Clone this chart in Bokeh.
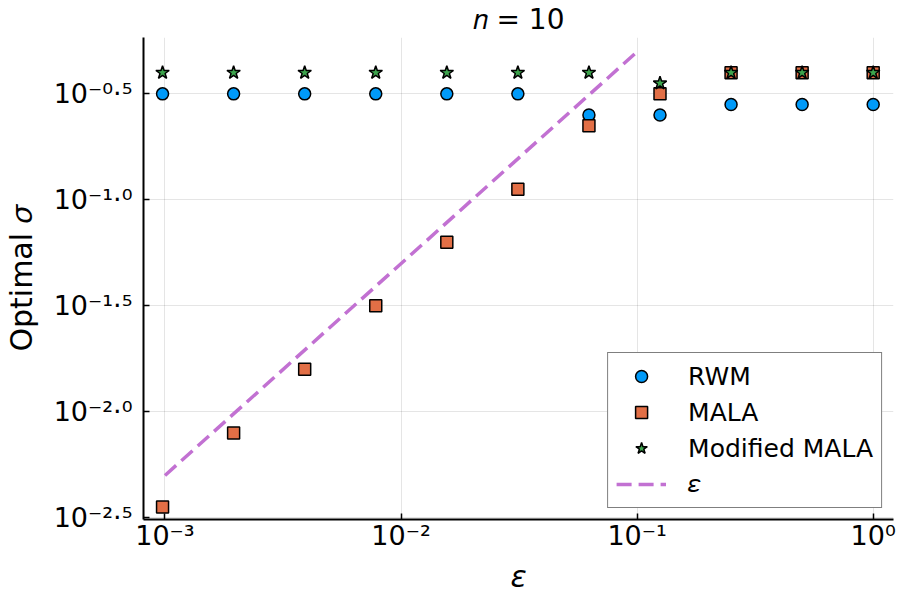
from bokeh.embed import file_html
from bokeh.models import (CustomJSTickFormatter, FixedTicker, Legend,
                          LegendItem, Range1d)
from bokeh.plotting import figure
from bokeh.resources import INLINE

# ---- data -------------------------------------------------------------
eps = [0.0009765625, 0.001953125, 0.00390625, 0.0078125, 0.015625,
       0.03125, 0.0625, 0.125, 0.25, 0.5, 1.0]
rwm = [0.3162, 0.3162, 0.3162, 0.3162, 0.3162, 0.3162,
       0.2512, 0.2512, 0.2818, 0.2818, 0.2818]
mala = [0.00355, 0.00794, 0.01585, 0.03162, 0.0631, 0.1122,
        0.2239, 0.3162, 0.3981, 0.3981, 0.3981]
mod_mala = [0.3981, 0.3981, 0.3981, 0.3981, 0.3981, 0.3981,
            0.3981, 0.3548, 0.3981, 0.3981, 0.3981]
ref_eps = [0.001, 0.1]
ref_sigma = [0.005, 0.5]

x_tick_exps = [-3, -2, -1, 0]
y_tick_exps = [-2.5, -2.0, -1.5, -1.0, -0.5]

# ---- styling ----------------------------------------------------------
FONT = "DejaVu Sans"
C_RWM = "#009af9"
C_MALA = "#e26f46"
C_MOD = "#3da44d"
C_REF = "#c271d2"

SUP = {"0": "\u2070", "1": "\u00b9", "2": "\u00b2", "3": "\u00b3",
       "4": "\u2074", "5": "\u2075", "6": "\u2076", "7": "\u2077",
       "8": "\u2078", "9": "\u2079", "-": "\u207b", ".": "\u00b7"}


def power_label(exp_text):
    """10 with the exponent written in superscript characters."""
    return "10" + "".join(SUP[c] for c in exp_text)


def log_tick_formatter(exps, labels):
    return CustomJSTickFormatter(args=dict(exps=exps, labels=labels), code="""
        const e = Math.log10(tick);
        let best = 0;
        for (let i = 1; i < exps.length; i++) {
            if (Math.abs(exps[i] - e) < Math.abs(exps[best] - e)) best = i;
        }
        return labels[best];
    """)


p = figure(width=900, height=600, x_axis_type="log", y_axis_type="log",
           x_range=Range1d(10 ** -3.091, 10 ** 0.086),
           y_range=Range1d(10 ** -2.509, 10 ** -0.234),
           output_backend="svg", toolbar_location=None,
           title="\U0001d45b = 10",
           min_border_left=142, min_border_right=7,
           min_border_top=37, min_border_bottom=81)
p.outline_line_color = None
p.background_fill_color = "white"
p.border_fill_color = "white"

p.title.align = "center"
p.title.vertical_align = "top"
p.title.text_font = FONT
p.title.text_font_size = "28px"
p.title.text_font_style = "normal"
p.title.text_color = "black"
p.title.standoff = 0

p.xaxis.ticker = FixedTicker(ticks=[10.0 ** e for e in x_tick_exps], minor_ticks=[])
p.yaxis.ticker = FixedTicker(ticks=[10.0 ** e for e in y_tick_exps], minor_ticks=[])
p.xaxis.formatter = log_tick_formatter(
    [float(e) for e in x_tick_exps], [power_label(f"{e:d}") for e in x_tick_exps])
p.yaxis.formatter = log_tick_formatter(
    y_tick_exps, [power_label(f"{e:.1f}") for e in y_tick_exps])

for ax in (p.xaxis[0], p.yaxis[0]):
    ax.axis_line_width = 2
    ax.axis_line_color = "black"
    ax.major_tick_in = 6
    ax.major_tick_out = 0
    ax.major_tick_line_width = 1.5
    ax.major_tick_line_color = "black"
    ax.minor_tick_line_color = None
    ax.major_label_text_font = FONT
    ax.major_label_text_font_size = "27px"
    ax.major_label_text_color = "black"
    ax.axis_label_text_font = FONT
    ax.axis_label_text_color = "black"

p.xaxis.major_label_standoff = 0
p.yaxis.major_label_standoff = 11

p.xaxis.axis_label = "\u03b5"
p.xaxis.axis_label_text_font_style = "italic"
p.xaxis.axis_label_text_font_size = "30px"
p.xaxis.axis_label_standoff = 5

p.yaxis.axis_label = "Optimal \U0001d70e"
p.yaxis.axis_label_text_font_style = "normal"
p.yaxis.axis_label_text_font_size = "30px"
p.yaxis.axis_label_standoff = 12

for g in (p.xgrid[0], p.ygrid[0]):
    g.grid_line_color = "black"
    g.grid_line_alpha = 0.1
    g.grid_line_width = 1

# ---- series -----------------------------------------------------------
r_rwm = p.scatter(eps, rwm, marker="circle", size=12, fill_color=C_RWM,
                  line_color="black", line_width=1.5)
r_mala = p.scatter(eps, mala, marker="square", size=12, fill_color=C_MALA,
                   line_color="black", line_width=1.5)
r_mod = p.scatter(eps, mod_mala, marker="star", size=14, fill_color=C_MOD,
                  line_color="black", line_width=1.5)
r_ref = p.line(ref_eps, ref_sigma, line_color=C_REF, line_width=3.5,
               line_dash="15 7")

legend = Legend(items=[
    LegendItem(label="RWM", renderers=[r_rwm]),
    LegendItem(label="MALA", renderers=[r_mala]),
    LegendItem(label="Modified MALA", renderers=[r_mod]),
    LegendItem(label="\U0001d700", renderers=[r_ref]),
], location="bottom_right")
legend.label_text_font = FONT
legend.label_text_font_size = "25px"
legend.label_text_color = "black"
legend.glyph_width = 50
legend.glyph_height = 30
legend.label_height = 30
legend.label_standoff = 22
legend.spacing = 6
legend.padding = 8
legend.margin = 11
legend.border_line_color = "black"
legend.border_line_width = 1.5
legend.background_fill_color = "white"
legend.background_fill_alpha = 1
p.add_layout(legend)

open("out.html", "w").write(file_html(p, INLINE))
